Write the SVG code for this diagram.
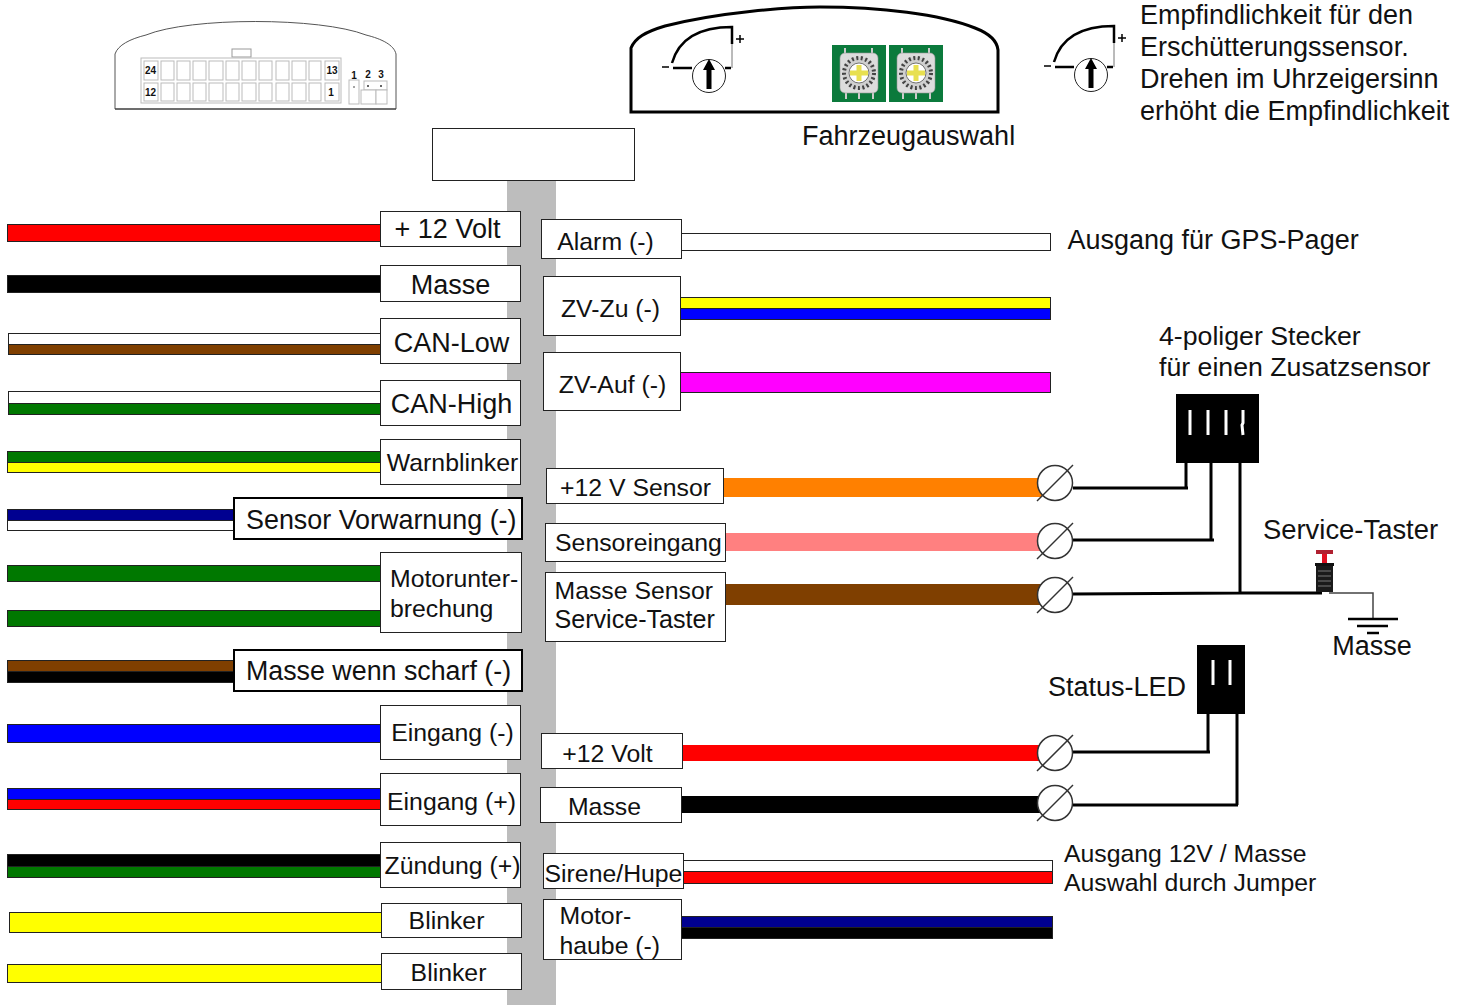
<svg xmlns="http://www.w3.org/2000/svg" width="1466" height="1005" viewBox="0 0 1466 1005">
<style>
text{font-family:"Liberation Sans",Arial,sans-serif;font-size:27px;fill:#111}
.m{font-size:24.8px}
.c{text-anchor:middle}
.b{fill:#fff;stroke:#222;stroke-width:1;shape-rendering:crispEdges}
.b2{stroke:#000;stroke-width:2}
.w{stroke:#222;stroke-width:1;shape-rendering:crispEdges}
.k{fill:none;stroke:#000;stroke-width:3}
.t{fill:none;stroke:#000;stroke-width:2.500}
.n{font-size:10px;font-weight:bold}
.s{fill:#fff;stroke:#bbb;stroke-width:1}
.term{fill:#fff;stroke:#333;stroke-width:1.500}
.sl{stroke:#333;stroke-width:1.500}
</style>
<defs>
<g id="term"><circle class="term" cx="0" cy="0" r="17.500"/><line class="sl" x1="-18" y1="18" x2="18" y2="-18"/></g>
<g id="sens">
<circle cx="0" cy="0" r="16.500" fill="#fff" stroke="#222" stroke-width="1"/>
<path d="M-2.500 13V-6H-6L0-17 6-6H2.500V13Z" fill="#000"/>
<path class="t" d="M-37-13C-31-34-14-49 23-49V-32"/>
<path d="M23-32V-8" stroke="#777" stroke-width="1" fill="none"/>
<path class="t" d="M-36-8H-17M16-8H22"/>
<path d="M-47-9H-40M27-37H35M31-41V-33" stroke="#000" stroke-width="1.500" fill="none"/>
</g>
<g id="rot">
<rect x="0" y="0" width="54" height="57" fill="#0b7a3c"/>
<path d="M13 3V10M40 3V10M14 47V54M27 47V54M41 47V54" stroke="#ccc" stroke-width="2"/>
<rect x="8" y="8" width="38" height="40" rx="5" fill="#dcdcdc" stroke="#999" stroke-width=".6"/>
<circle cx="27" cy="28" r="16" fill="#cfcfcf"/>
<circle cx="27" cy="28" r="15" fill="none" stroke="#444" stroke-width="4" stroke-dasharray="2 2.500"/>
<circle cx="27" cy="28" r="10" fill="#fff" stroke="#555" stroke-width=".8"/>
<path d="M18 28H36M27 20V36" stroke="#e8e050" stroke-width="5"/>
</g>
</defs>

<g id="bar"><rect x="507" y="181" width="49" height="824" fill="#bdbdbd"/></g>

<g id="connectors">
<g id="wires-left" class="w" transform="translate(-.5 -.5)">
<rect x="8" y="225" width="373" height="17" fill="#ff0000"/>
<rect x="8" y="276" width="373" height="17" fill="#000"/>
<rect x="9" y="334" width="372" height="11" fill="#fff"/><rect x="9" y="345" width="372" height="10" fill="#7f3f00"/>
<rect x="9" y="392" width="372" height="12" fill="#fff"/><rect x="9" y="404" width="372" height="11" fill="#007800"/>
<rect x="8" y="452" width="373" height="11" fill="#007800"/><rect x="8" y="463" width="373" height="10" fill="#ffff00"/>
<rect x="8" y="510" width="226" height="11" fill="#000090"/><rect x="8" y="521" width="226" height="10" fill="#fff"/>
<rect x="8" y="566" width="373" height="16" fill="#007800"/>
<rect x="8" y="611" width="373" height="16" fill="#007800"/>
<rect x="8" y="661" width="226" height="11" fill="#7f3f00"/><rect x="8" y="672" width="226" height="11" fill="#000"/>
<rect x="8" y="725" width="373" height="18" fill="#0000ff"/>
<rect x="8" y="789" width="373" height="11" fill="#0000ff"/><rect x="8" y="800" width="373" height="10" fill="#ff0000"/>
<rect x="8" y="855" width="373" height="12" fill="#000"/><rect x="8" y="867" width="373" height="11" fill="#007800"/>
<rect x="10" y="913" width="372" height="20" fill="#ffff00"/>
<rect x="8" y="965" width="374" height="18" fill="#ffff00"/>
</g>
<g id="wires-right" class="w" transform="translate(-.5 -.5)">
<rect x="682" y="234" width="369" height="17" fill="#fff"/>
<rect x="681" y="298" width="370" height="11" fill="#ffff00"/><rect x="681" y="309" width="370" height="11" fill="#0000ff"/>
<rect x="681" y="373" width="370" height="20" fill="#ff00ff"/>
<rect x="724" y="478" width="318" height="19" fill="#ff8000" stroke="none"/>
<rect x="726" y="533" width="316" height="18" fill="#ff8080" stroke="none"/>
<rect x="726" y="584" width="316" height="21" fill="#7f3f00" stroke="none"/>
<rect x="683" y="745" width="360" height="16" fill="#ff0000" stroke="none"/>
<rect x="682" y="796" width="360" height="17" fill="#000" stroke="none"/>
<rect x="684" y="861" width="369" height="11" fill="#fff"/><rect x="684" y="872" width="369" height="12" fill="#ff0000"/>
<rect x="681" y="917" width="372" height="11" fill="#000090"/><rect x="681" y="928" width="372" height="11" fill="#000"/>
</g>
<path class="k" d="M1073 488H1188M1186 488V462"/>
<path class="k" d="M1073 540H1214M1211 540V462"/>
<path class="k" d="M1073 594L1240 593H1322M1240 593V462"/>
<path d="M1329 593H1373V620" fill="none" stroke="#444" stroke-width="1.500"/>
<path class="k" d="M1073 752H1210M1208 752V713"/>
<path class="k" d="M1073 805H1238M1237 805V713"/>
</g>

<g id="pins">
<use href="#term" x="1055" y="483"/>
<use href="#term" x="1055" y="541"/>
<use href="#term" x="1055" y="595"/>
<use href="#term" x="1055" y="753"/>
<use href="#term" x="1055" y="803"/>
</g>

<g id="ecu-connector">
<path d="M115 109V54C118 45 130 39 146 35C190 17 320 17 366 35C382 39 394 45 396 54V109Z" fill="#fff" stroke="#555" stroke-width="1"/>
<path d="M115 109H396" stroke="#333" stroke-width="1.200"/>
<rect x="232" y="49" width="19" height="8" fill="#fff" stroke="#999"/>
<rect x="141" y="58" width="200" height="45" fill="#fff" stroke="#bbb"/>
<g class="s">
<rect x="144" y="61" width="14" height="19"/><rect x="161" y="61" width="13" height="19"/><rect x="177" y="61" width="13" height="19"/><rect x="193" y="61" width="13" height="19"/><rect x="209" y="61" width="14" height="19"/><rect x="226" y="61" width="13" height="19"/><rect x="242" y="61" width="14" height="19"/><rect x="259" y="61" width="13" height="19"/><rect x="276" y="61" width="13" height="19"/><rect x="292" y="61" width="14" height="19"/><rect x="309" y="61" width="12" height="19"/><rect x="325" y="61" width="14" height="19"/>
<rect x="144" y="83" width="14" height="18"/><rect x="161" y="83" width="13" height="18"/><rect x="177" y="83" width="13" height="18"/><rect x="193" y="83" width="13" height="18"/><rect x="209" y="83" width="14" height="18"/><rect x="226" y="83" width="13" height="18"/><rect x="242" y="83" width="14" height="18"/><rect x="259" y="83" width="13" height="18"/><rect x="276" y="83" width="13" height="18"/><rect x="292" y="83" width="14" height="18"/><rect x="309" y="83" width="12" height="18"/><rect x="325" y="83" width="14" height="18"/>
</g>
<text class="n c" x="150.500" y="74">24</text><text class="n c" x="150.500" y="96">12</text><text class="n c" x="332" y="74">13</text><text class="n c" x="331" y="96">1</text>
<text class="n c" x="354" y="79">1</text><text class="n c" x="368" y="78">2</text><text class="n c" x="381" y="78">3</text>
<rect x="349" y="80" width="10" height="24" class="s"/><rect x="364" y="81" width="23" height="9" class="s"/><rect x="361" y="90" width="15" height="14" class="s"/><rect x="376" y="90" width="11" height="14" class="s"/>
<circle cx="354" cy="87" r=".8" fill="#333"/><circle cx="368" cy="86" r="1" fill="#333"/><circle cx="381" cy="86" r="1" fill="#333"/>
</g>

<g id="housing">
<path d="M631 112V48C635 38 645 32 665 26C720 12 790 7 820 7C880 7 940 14 975 28C988 33 997 40 998 50V112Z" fill="#fff" stroke="#000" stroke-width="3"/>
</g>
<g id="sens-main"><use href="#sens" x="709" y="76"/></g>
<g id="sens-legend"><use href="#sens" x="1091" y="75"/></g>
<g id="rotary"><use href="#rot" x="832" y="45"/><use href="#rot" x="889" y="45"/></g>
<g id="top-box" transform="translate(-.5 -.5)"><rect class="b" x="433" y="129" width="202" height="52"/></g>

<g id="labels-left" transform="translate(-.5 -.5)">
<g id="n-12v"><rect class="b" x="381" y="212" width="140" height="35"/><text class="c" x="448" y="238.500">+ 12 Volt</text></g>
<g id="n-masse"><rect class="b" x="381" y="266" width="140" height="36"/><text class="c" x="451" y="294.500">Masse</text></g>
<g id="n-canl"><rect class="b" x="381" y="319" width="140" height="45"/><text class="c" x="452" y="352.500">CAN-Low</text></g>
<g id="n-canh"><rect class="b" x="381" y="381" width="140" height="45"/><text class="c" x="452" y="413.500">CAN-High</text></g>
<g id="n-warn"><rect class="b" x="381" y="440" width="140" height="45"/><text class="c m" x="453" y="471">Warnblinker</text></g>
<g id="n-svw"><rect class="b b2" x="234" y="498" width="288" height="41"/><text style="font-size:26.900px" x="246.500" y="529.500">Sensor Vorwarnung (-)</text></g>
<g id="n-motor"><rect class="b" x="381" y="553" width="141" height="80"/><text class="m" x="390.500" y="587">Motorunter-</text><text class="m" x="390.500" y="617">brechung</text></g>
<g id="n-mws"><rect class="b b2" x="234" y="650" width="288" height="41"/><text style="font-size:26.800px" x="246.500" y="680.500">Masse wenn scharf (-)</text></g>
<g id="n-em"><rect class="b" x="381" y="706" width="140" height="54"/><text class="c m" x="453" y="741">Eingang (-)</text></g>
<g id="n-ep"><rect class="b" x="381" y="774" width="140" height="52"/><text class="c m" x="452" y="810">Eingang (+)</text></g>
<g id="n-z"><rect class="b" x="381" y="843" width="140" height="45"/><text class="c m" x="453" y="874">Zündung (+)</text></g>
<g id="n-b1"><rect class="b" x="382" y="904" width="140" height="34"/><text class="c m" x="447" y="929">Blinker</text></g>
<g id="n-b2"><rect class="b" x="382" y="954" width="140" height="36"/><text class="c m" x="449" y="981">Blinker</text></g>
</g>
<g id="labels-right" transform="translate(-.5 -.5)">
<g id="r-alarm"><rect class="b" x="542" y="220" width="140" height="39"/><text class="c m" x="606" y="250">Alarm (-)</text></g>
<g id="r-zu"><rect class="b" x="544" y="277" width="137" height="59"/><text class="c m" x="611" y="317">ZV-Zu (-)</text></g>
<g id="r-auf"><rect class="b" x="544" y="353" width="137" height="58"/><text class="c m" x="613" y="393">ZV-Auf (-)</text></g>
<g id="r-12s"><rect class="b" x="547" y="469" width="177" height="35"/><text class="c m" x="636" y="496">+12 V Sensor</text></g>
<g id="r-se"><rect class="b" x="546" y="524" width="180" height="38"/><text class="c m" x="639" y="551">Sensoreingang</text></g>
<g id="r-ms"><rect class="b" x="546" y="573" width="180" height="69"/><text class="m" x="555" y="599">Masse Sensor</text><text style="font-size:25.100px" x="555" y="628">Service-Taster</text></g>
<g id="r-12"><rect class="b" x="542" y="734" width="141" height="35"/><text class="c m" x="608" y="762">+12 Volt</text></g>
<g id="r-m"><rect class="b" x="541" y="788" width="141" height="35"/><text class="c m" x="605" y="815">Masse</text></g>
<g id="r-sir"><rect class="b" x="544" y="854" width="140" height="35"/><text class="c m" x="614" y="882">Sirene/Hupe</text></g>
<g id="r-mh"><rect class="b" x="544" y="900" width="138" height="60"/><text class="m" x="560" y="924">Motor-</text><text class="m" x="560" y="954">haube (-)</text></g>
</g>

<g id="plug4"><rect x="1176" y="394" width="83" height="69" fill="#000"/><path d="M1190 410V435M1208 410V435M1226 410V435M1243 410V423L1242 425 1243 435" stroke="#fff" stroke-width="3" fill="none"/></g>
<g id="plug2"><rect x="1197" y="645" width="48" height="69" fill="#000"/><path d="M1213 660V685M1230 660V685" stroke="#fff" stroke-width="3" fill="none"/></g>
<g id="taster"><rect x="1316" y="550" width="17" height="4" fill="#b02030"/><rect x="1322" y="554" width="5" height="9" fill="#e01020"/><rect x="1315" y="563" width="19" height="3" fill="#111"/><rect x="1316" y="566" width="17" height="26" fill="#1a1a1a"/><path d="M1318 571H1331M1318 576H1331M1318 581H1331M1318 586H1331" stroke="#777" stroke-width="1"/></g>
<g id="ground" fill="none" stroke="#000"><path d="M1348 619H1398" stroke-width="2.500"/><path d="M1357 626H1388" stroke-width="2.500"/><path d="M1367 633H1379" stroke-width="2.500"/></g>

<g id="captions">
<text x="802" y="145">Fahrzeugauswahl</text>
<text x="1140" y="24">Empfindlichkeit für den</text>
<text x="1140" y="56">Erschütterungssensor.</text>
<text x="1140" y="88">Drehen im Uhrzeigersinn</text>
<text x="1140" y="120">erhöht die Empfindlichkeit</text>
<text x="1067.500" y="249">Ausgang für GPS-Pager</text>
<text style="font-size:26.700px" x="1159" y="345">4-poliger Stecker</text>
<text style="font-size:26.700px" x="1159" y="376">für einen Zusatzsensor</text>
<text style="font-size:27.400px" x="1263" y="539">Service-Taster</text>
<text class="c" x="1372" y="655">Masse</text>
<text x="1048" y="695.500">Status-LED</text>
<text class="m" x="1064" y="862">Ausgang 12V / Masse</text>
<text class="m" x="1064" y="891">Auswahl durch Jumper</text>
</g>
</svg>
